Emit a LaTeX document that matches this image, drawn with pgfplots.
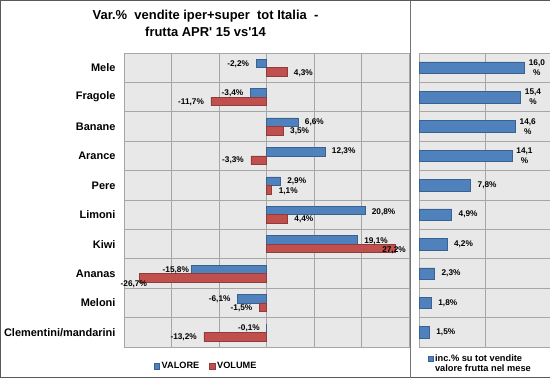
\documentclass[border=0pt]{standalone}
\usepackage{pgfplots}
\pgfplotsset{compat=1.18}
\usepackage{pgfplotstable}
\usepackage{fontspec}
\setmainfont{Liberation Sans}
\newfontfamily\plainfont{Liberation Sans}
\definecolor{cblue}{HTML}{4F81BD}
\definecolor{cred}{HTML}{C0504D}
\definecolor{cbg}{HTML}{E8E8E8}
\definecolor{cgrid}{HTML}{A6A6A6}
\definecolor{cframe}{HTML}{595959}

\pgfplotstableread{
y x dx dy
0 -2.2 -3.5 -1
1 -3.4 -3.5 0
2 6.6 3.5 0
3 12.3 3.5 0
4 2.9 3.5 0
5 20.8 3.0 -1.5
6 19.1 3.5 -1
7 -15.8 1 -1
8 -6.1 -3.5 -1
9 -0.1 -2.7 0
}\valore
\pgfplotstableread{
y x dx dy
0 4.3 3.5 -1.5
1 -11.7 -3.5 -1
2 3.5 3.5 -1
3 -3.3 -3.5 -0.5
4 1.1 3.5 -1.5
5 4.4 3.5 -0.5
6 27.2 -17 -1.5
7 -26.7 10.8 -6.5
8 -1.5 -3.5 -1
9 -13.2 -3.5 -0.5
}\volume
\pgfplotstableread{
y x
0 16.0
1 15.4
2 14.6
3 14.1
}\incA
\pgfplotstableread{
y x
4 7.8
5 4.9
6 4.2
7 2.3
8 1.8
9 1.5
}\incB

\tikzset{lab/.style={font=\bfseries\fontsize{8.3}{10}\selectfont, text=black}}
\newcommand\num[1]{\pgfmathprintnumber[fixed,fixed zerofill,precision=1,use comma,assume math mode=true]{#1}}
\pgfplotsset{
  common/.style={
    scale only axis, height=294bp,
    xbar,
    ymin=-0.5, ymax=9.5, y dir=reverse,
    ytick={0,...,9},
    minor ytick={0.5,1.5,...,8.5},
    xmajorgrids, yminorgrids,
    major grid style={cgrid, line width=0.8bp},
    minor grid style={cgrid, line width=0.8bp},
    major tick length=0pt, minor tick length=0pt,
    axis line style={cgrid, line width=0.8bp},
    axis background/.style={fill=cbg},
    xticklabels={},
    clip=false,
  },
}

\begin{document}
\begin{tikzpicture}
\useasboundingbox (0,0) rectangle (550bp,379bp);
\begin{axis}[
  common,
  at={(124bp,32bp)}, anchor=south west,
  width=285bp,
  bar width=8.5bp,
  xmin=-30, xmax=30, xtick={-30,-20,...,30},
  yticklabels={Mele,Fragole,Banane,Arance,Pere,Limoni,Kiwi,Ananas,Meloni,Clementini/mandarini},
  yticklabel style={font=\bfseries\fontsize{11}{13}\selectfont, xshift=-5bp},
  title={Var.\%\ \ vendite iper+super\ \ tot Italia\ \ -\\frutta APR' 15 vs'14},
  title style={at={(axis description cs:0.286,1.080)}, anchor=center, align=center,
    font=\plainfont\bfseries\fontsize{13}{17}\selectfont},
  point meta=x,
  nodes near coords={\num{\pgfplotspointmeta}\%},
  visualization depends on={\thisrow{dx} \as \dx},
  visualization depends on={\thisrow{dy} \as \dy},
  every node near coord/.append style={lab, xshift=\dx bp, yshift=\dy bp},
  legend style={at={(axis description cs:0.288,-0.066)}, anchor=center, draw=none, fill=none,
    font=\bfseries\fontsize{9.2}{11}\selectfont, legend columns=2,
    /tikz/every even column/.append style={column sep=8bp}},
  legend image code/.code={\fill[#1] (0bp,-2.5bp) rectangle (5.5bp,3bp);},
]
\addplot[fill=cblue, draw=cblue!75!black, line width=0.5bp, bar shift=4.25bp] table[x=x,y=y]{\valore};
\addlegendentry{VALORE}
\addplot[fill=cred, draw=cred!75!black, line width=0.5bp, bar shift=-4.25bp] table[x=x,y=y]{\volume};
\addlegendentry{VOLUME}
\end{axis}

\begin{axis}[
  common,
  at={(419.5bp,32bp)}, anchor=south west,
  width=131bp,
  bar width=11.5bp, bar shift=0pt,
  xmin=0, xmax=20, xtick={0,10,20},
  yticklabels={},
  point meta=x,
  legend style={at={(axis description cs:0.06,-0.012)}, anchor=north west, draw=none, fill=none,
    font=\bfseries\fontsize{9.3}{10}\selectfont, inner xsep=0pt,
    nodes={inner xsep=1.5bp}},
  legend image code/.code={\fill[#1] (0bp,-2.5bp) rectangle (5.5bp,3bp);},
]
\addplot[fill=cblue, draw=cblue!75!black, line width=0.5bp,
  nodes near coords={\num{\pgfplotspointmeta}\\\%},
  every node near coord/.append style={lab, align=center, xshift=1bp}] table[x=x,y=y]{\incA};
\addlegendentry{\begin{tabular}[t]{@{}l@{}}inc.\% su tot vendite\\valore frutta nel mese\end{tabular}}
\addplot[fill=cblue, draw=cblue!75!black, line width=0.5bp, forget plot,
  nodes near coords={\num{\pgfplotspointmeta}\%},
  every node near coord/.append style={lab, xshift=3.5bp}] table[x=x,y=y]{\incB};
\end{axis}

\draw[cframe, line width=1.2bp] (0.6bp,1.5bp) -- (0.6bp,378.4bp) -- (550bp,378.4bp);
\draw[cframe, line width=1.2bp] (0.6bp,1.5bp) -- (550bp,1.5bp);
\draw[cgrid!70!black, line width=1.5bp] (410.5bp,1.5bp) -- (410.5bp,378.4bp);
\end{tikzpicture}
\end{document}
